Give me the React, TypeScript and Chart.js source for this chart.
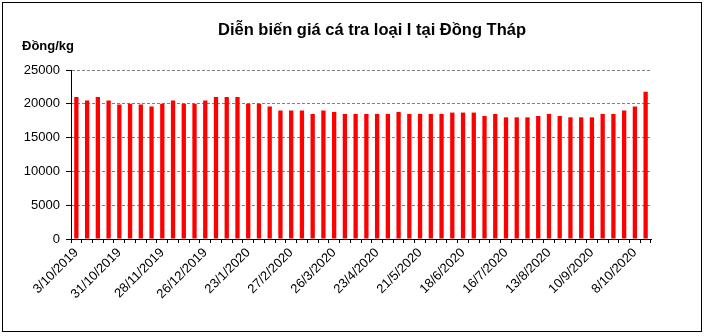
import React, { useEffect, useRef } from "react";
import { Chart, registerables } from "chart.js";

Chart.register(...registerables);

const TITLE = "Diễn biến giá cá tra loại I tại Đồng Tháp";
const UNIT = "Đồng/kg";

const dates: string[] = [
  "3/10/2019", "10/10/2019", "17/10/2019", "24/10/2019", "31/10/2019", "7/11/2019", "14/11/2019", "21/11/2019",
  "28/11/2019", "5/12/2019", "12/12/2019", "19/12/2019", "26/12/2019", "2/1/2020", "9/1/2020", "16/1/2020",
  "23/1/2020", "6/2/2020", "13/2/2020", "20/2/2020", "27/2/2020", "5/3/2020", "12/3/2020", "19/3/2020",
  "26/3/2020", "2/4/2020", "9/4/2020", "16/4/2020", "23/4/2020", "30/4/2020", "7/5/2020", "14/5/2020",
  "21/5/2020", "28/5/2020", "4/6/2020", "11/6/2020", "18/6/2020", "25/6/2020", "2/7/2020", "9/7/2020",
  "16/7/2020", "23/7/2020", "30/7/2020", "6/8/2020", "13/8/2020", "20/8/2020", "27/8/2020", "3/9/2020",
  "10/9/2020", "17/9/2020", "24/9/2020", "1/10/2020", "8/10/2020", "15/10/2020",
];

const prices: number[] = [
  21000, 20500, 21000, 20500, 19900, 20000, 19900, 19600,
  20000, 20500, 20000, 20000, 20500, 21000, 21000, 21000,
  20000, 20000, 19600, 19000, 19000, 19000, 18500, 19000,
  18800, 18500, 18500, 18500, 18500, 18500, 18800, 18500,
  18500, 18500, 18500, 18700, 18700, 18700, 18200, 18500,
  18000, 18000, 18000, 18200, 18500, 18200, 18000, 18000,
  18000, 18500, 18500, 19000, 19600, 21800,
];

const yTicks: number[] = [0, 5000, 10000, 15000, 20000, 25000];

const FONT = "'Liberation Sans', Arial, sans-serif";

export default function App() {
  const ref = useRef<HTMLCanvasElement | null>(null);

  useEffect(() => {
    if (!ref.current) return;
    const textPlugin = {
      id: "texts",
      afterDraw(chart: any) {
        const ctx = chart.ctx;
        ctx.save();
        ctx.fillStyle = "#000";
        ctx.textBaseline = "middle";
        ctx.textAlign = "center";
        ctx.font = `bold 16.5px ${FONT}`;
        ctx.fillText(TITLE, 372, 30);
        ctx.textAlign = "left";
        ctx.font = `bold 13px ${FONT}`;
        ctx.fillText(UNIT, 22, 46);
        ctx.restore();
      },
    };
    const chart = new Chart(ref.current, {
      type: "bar",
      data: {
        labels: dates,
        datasets: [
          {
            data: prices,
            backgroundColor: "#FF0000",
            borderWidth: 0,
            categoryPercentage: 1,
            barPercentage: 0.4,
          },
        ],
      },
      options: {
        animation: false,
        responsive: false,
        maintainAspectRatio: false,
        layout: { padding: { left: 0, right: 53, top: 70, bottom: 0 } },
        plugins: {
          legend: { display: false },
          title: { display: false },
          tooltip: { enabled: false },
        },
        scales: {
          x: {
            type: "category",
            offset: true,
            grid: {
              offset: true,
              drawOnChartArea: false,
              drawTicks: true,
              tickLength: 4,
              tickColor: "#000",
              tickWidth: 1,
            },
            border: { display: true, color: "#000", width: 1 },
            ticks: {
              autoSkip: false,
              maxRotation: 45,
              minRotation: 45,
              padding: 2,
              color: "#000",
              font: { family: FONT, size: 13 },
              callback: (_v: any, i: number) => (i % 4 === 0 ? dates[i] : ""),
            },
            afterFit: (s: any) => {
              s.height = 97;
            },
          },
          y: {
            min: 0,
            max: 25000,
            afterBuildTicks: (s: any) => {
              s.ticks = yTicks.map((v) => ({ value: v }));
            },
            grid: {
              color: "#808080",
              lineWidth: 1,
              drawTicks: true,
              tickLength: 5,
              tickColor: "#000",
              tickBorderDash: [],
            },
            border: { display: true, color: "#000", width: 1, dash: [3, 2] },
            ticks: {
              padding: 6,
              color: "#000",
              font: { family: FONT, size: 13 },
              callback: (v: any) => String(v),
            },
            afterFit: (s: any) => {
              s.width = 71;
            },
          },
        },
      },
      plugins: [textPlugin],
    });
    return () => chart.destroy();
  }, []);

  return (
    <div style={{ position: "fixed", left: 0, top: 0, width: 704, height: 336, background: "#fff" }}>
      <canvas ref={ref} width={704} height={336} style={{ position: "absolute", left: 0, top: 0, width: 704, height: 336 }} />
      <div
        style={{
          position: "absolute",
          left: 2,
          top: 2,
          width: 700,
          height: 330,
          boxSizing: "border-box",
          border: "1px solid #000",
          pointerEvents: "none",
        }}
      />
    </div>
  );
}
